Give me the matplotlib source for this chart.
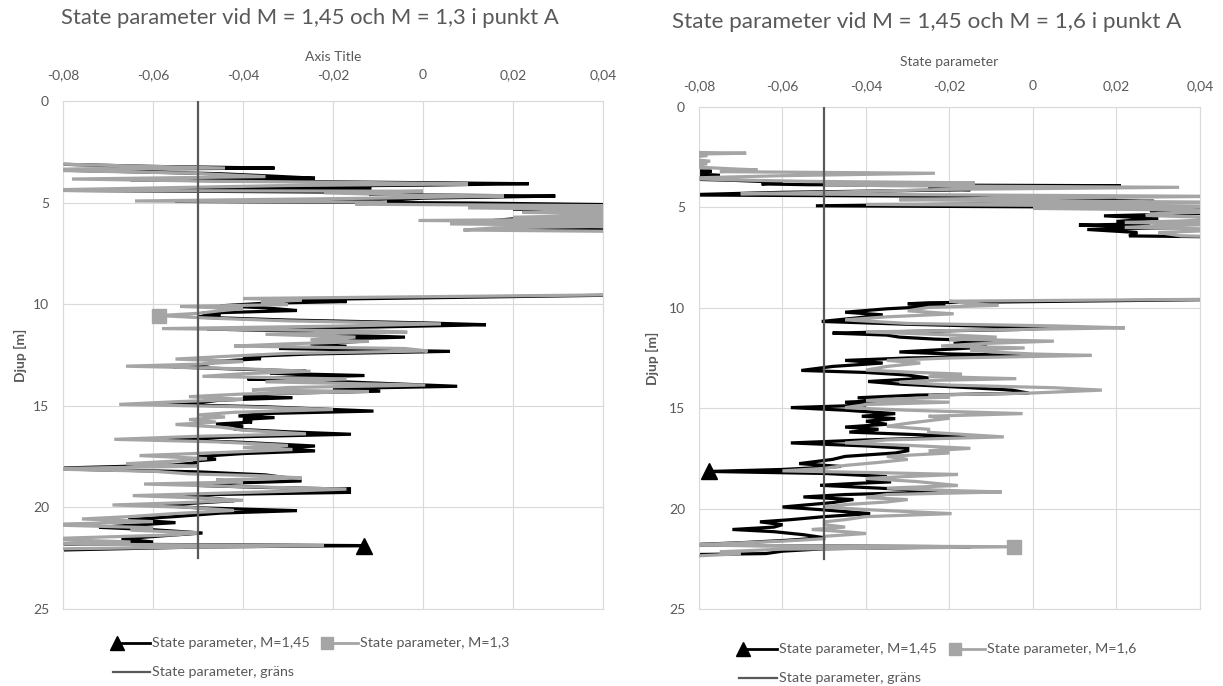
import matplotlib
matplotlib.use("Agg")
import matplotlib.pyplot as plt
from matplotlib.lines import Line2D

plt.rcParams['font.family'] = ['Lato', 'DejaVu Sans']

TEXT = '#595959'
GRID = '#D9D9D9'
BLACK = '#000000'
GREY = '#A5A5A5'
LIMIT = '#595959'

x_ticks = [-0.08, -0.06, -0.04, -0.02, 0.0, 0.02, 0.04]
x_tick_labels = ['-0,08', '-0,06', '-0,04', '-0,02', '0', '0,02', '0,04']
y_ticks = [0, 5, 10, 15, 20, 25]

# ---------------- Point A, M = 1,45 vs M = 1,3 ----------------
# M = 1,3 (grey)
a13_depth = [
    3.05, 3.18, 3.30, 3.38, 3.55, 3.72, 3.84, 3.95, 4.02, 4.08,
    4.16, 4.28, 4.40, 4.44, 4.52, 4.62, 4.68, 4.78, 4.92, 4.98,
    5.08, 5.16, 5.26, 5.36, 5.48, 5.58, 5.72, 5.80, 5.88, 5.96,
    6.05, 6.14, 6.24, 6.35, 6.45, 9.50, 9.72, 9.80, 9.90, 10.02,
    10.11, 10.22, 10.32, 10.45, 10.56, 10.68, 10.82, 10.97, 11.08, 11.20,
    11.32, 11.38, 11.48, 11.62, 11.75, 11.83, 11.95, 12.06, 12.18, 12.30,
    12.42, 12.58, 12.70, 12.82, 12.95, 13.05, 13.18, 13.30, 13.42, 13.55,
    13.68, 13.82, 13.98, 14.10, 14.22, 14.30, 14.42, 14.55, 14.68, 14.80,
    14.93, 15.05, 15.18, 15.32, 15.45, 15.55, 15.68, 15.80, 15.92, 16.05,
    16.20, 16.38, 16.50, 16.65, 16.78, 16.95, 17.05, 17.15, 17.30, 17.45,
    17.60, 17.72, 17.85, 17.97, 18.10, 18.22, 18.35, 18.45, 18.55, 18.65,
    18.75, 18.85, 18.98, 19.10, 19.20, 19.30, 19.42, 19.55, 19.65, 19.78,
    19.88, 20.00, 20.15, 20.30, 20.45, 20.57, 20.70, 20.85, 21.00, 21.12,
    21.25, 21.35, 21.45, 21.55, 21.70, 21.80, 21.88, 21.98, 22.05, 22.20,
]
a13_value = [
    -0.090, -0.068, -0.044, -0.090, -0.052, -0.035, -0.078, -0.045, -0.010, 0.010,
    -0.030, -0.060, -0.090, 0.000, -0.022, -0.004, 0.018, -0.010, -0.064, -0.008,
    -0.015, 0.050, 0.010, 0.050, 0.022, 0.050, 0.020, 0.050, -0.001, 0.050,
    0.006, 0.050, 0.016, 0.009, 0.060, 0.060, -0.040, -0.027, -0.036, -0.030,
    -0.054, -0.040, -0.045, -0.050, -0.0587, -0.048, -0.030, 0.004, -0.020, -0.058,
    -0.010, -0.0035, -0.035, -0.015, -0.025, -0.012, -0.030, -0.042, -0.004, 0.001,
    -0.030, -0.045, -0.055, -0.040, -0.050, -0.066, -0.040, -0.025, -0.040, -0.049,
    -0.017, -0.035, 0.0005, -0.030, -0.038, -0.012, -0.040, -0.052, -0.040, -0.055,
    -0.0675, -0.040, -0.020, -0.042, -0.050, -0.044, -0.052, -0.046, -0.055, -0.045,
    -0.040, -0.026, -0.050, -0.0686, -0.045, -0.030, -0.040, -0.029, -0.045, -0.063,
    -0.048, -0.055, -0.066, -0.050, -0.085, -0.060, -0.052, -0.035, -0.027, -0.046,
    -0.040, -0.062, -0.040, -0.017, -0.030, -0.045, -0.0645, -0.048, -0.040, -0.055,
    -0.069, -0.052, -0.042, -0.055, -0.065, -0.0758, -0.060, -0.085, -0.060, -0.065,
    -0.050, -0.055, -0.070, -0.085, -0.065, -0.085, -0.022, -0.060, -0.085, -0.085,
]
a13_marker_depth = 10.56

# M = 1,45 (black)
a145_depth = [
    3.05, 3.13, 3.22, 3.30, 3.38, 3.58, 3.68, 3.80, 3.88, 3.98,
    4.07, 4.14, 4.22, 4.32, 4.40, 4.51, 4.60, 4.68, 4.78, 4.89,
    4.94, 5.02, 5.12, 5.22, 5.32, 5.44, 5.55, 5.66, 5.80, 5.93,
    6.00, 6.10, 6.20, 6.30, 6.42, 9.50, 9.78, 9.87, 9.95, 10.08,
    10.18, 10.31, 10.44, 10.52, 10.64, 10.78, 10.92, 11.01, 11.12, 11.22,
    11.34, 11.48, 11.62, 11.72, 11.83, 11.95, 12.07, 12.18, 12.32, 12.45,
    12.58, 12.68, 12.80, 12.95, 13.09, 13.20, 13.30, 13.40, 13.51, 13.60,
    13.68, 13.80, 14.04, 14.15, 14.28, 14.40, 14.52, 14.60, 14.72, 14.85,
    14.93, 15.05, 15.26, 15.38, 15.50, 15.58, 15.67, 15.80, 15.90, 16.00,
    16.15, 16.28, 16.40, 16.52, 16.65, 16.80, 16.98, 17.08, 17.22, 17.35,
    17.50, 17.63, 17.72, 17.80, 17.92, 18.09, 18.25, 18.40, 18.55, 18.70,
    18.80, 18.92, 19.02, 19.10, 19.18, 19.26, 19.36, 19.46, 19.58, 19.67,
    19.78, 19.89, 20.02, 20.16, 20.28, 20.45, 20.60, 20.75, 20.88, 20.98,
    21.10, 21.26, 21.40, 21.55, 21.70, 21.80, 21.88, 21.95, 22.05, 22.12,
]
a145_value = [
    -0.090, -0.0775, -0.060, -0.033, -0.085, -0.045, -0.035, -0.024, -0.065, -0.020,
    0.0235, 0.000, -0.040, -0.0115, -0.080, 0.000, -0.012, 0.0294, 0.000, -0.008,
    -0.055, 0.010, 0.050, 0.040, 0.020, 0.050, 0.032, 0.050, 0.020, 0.013,
    0.024, 0.050, 0.022, 0.030, 0.060, 0.060, -0.030, -0.017, -0.035, -0.045,
    -0.035, -0.028, -0.049, -0.045, -0.050, -0.030, 0.000, 0.014, -0.010, -0.048,
    -0.0245, -0.025, -0.004, -0.020, -0.014, -0.025, -0.017, -0.032, 0.006, -0.025,
    -0.040, -0.036, -0.045, -0.048, -0.0555, -0.040, -0.026, -0.034, -0.013, -0.030,
    -0.039, -0.020, 0.0076, -0.020, -0.0095, -0.035, -0.040, -0.029, -0.045, -0.050,
    -0.058, -0.035, -0.011, -0.035, -0.041, -0.033, -0.040, -0.038, -0.046, -0.040,
    -0.042, -0.030, -0.016, -0.040, -0.058, -0.040, -0.024, -0.032, -0.024, -0.040,
    -0.050, -0.046, -0.051, -0.050, -0.056, -0.085, -0.050, -0.035, -0.030, -0.027,
    -0.042, -0.050, -0.035, -0.016, -0.026, -0.016, -0.045, -0.055, -0.045, -0.042,
    -0.050, -0.0595, -0.050, -0.028, -0.045, -0.055, -0.0655, -0.055, -0.065, -0.072,
    -0.060, -0.049, -0.058, -0.067, -0.060, -0.080, -0.0131, -0.050, -0.070, -0.085,
]
a145_marker_depth = 21.88

# ---------------- Point A, M = 1,45 vs M = 1,6 ----------------
# M = 1,6 (grey)
b16_depth = [
    2.25, 2.30, 2.36, 2.42, 2.55, 2.70, 2.76, 2.83, 2.95, 3.10,
    3.13, 3.22, 3.30, 3.42, 3.55, 3.63, 3.70, 3.78, 3.85, 3.92,
    4.00, 4.10, 4.25, 4.32, 4.45, 4.55, 4.62, 4.75, 4.85, 4.95,
    5.05, 5.17, 5.30, 5.40, 5.55, 5.68, 5.75, 5.82, 5.92, 6.00,
    6.10, 6.25, 6.42, 6.50, 9.55, 9.67, 9.80, 9.88, 9.98, 10.15,
    10.30, 10.45, 10.60, 10.78, 10.90, 11.00, 11.10, 11.20, 11.35, 11.46,
    11.56, 11.66, 11.78, 11.90, 12.00, 12.10, 12.20, 12.30, 12.37, 12.50,
    12.62, 12.75, 12.92, 13.10, 13.20, 13.30, 13.42, 13.53, 13.62, 13.70,
    13.85, 13.98, 14.10, 14.25, 14.35, 14.45, 14.55, 14.62, 14.70, 14.82,
    14.97, 15.10, 15.27, 15.40, 15.50, 15.60, 15.75, 15.90, 16.05, 16.20,
    16.33, 16.43, 16.58, 16.73, 16.85, 17.00, 17.12, 17.23, 17.40, 17.55,
    17.70, 17.85, 18.00, 18.12, 18.22, 18.30, 18.40, 18.50, 18.65, 18.85,
    18.98, 19.10, 19.17, 19.30, 19.45, 19.55, 19.67, 19.80, 19.92, 20.05,
    20.25, 20.40, 20.55, 20.66, 20.80, 20.92, 21.04, 21.15, 21.24, 21.38,
    21.50, 21.62, 21.75, 21.82, 21.90, 22.02, 22.15, 22.25, 22.40,
]
b16_value = [
    -0.085, -0.0687, -0.085, -0.078, -0.085, -0.0773, -0.085, -0.078, -0.085, -0.070,
    -0.066, -0.075, -0.0235, -0.060, -0.085, -0.072, -0.055, -0.014, -0.050, -0.035,
    0.035, -0.020, -0.050, -0.070, 0.045, -0.010, -0.032, 0.050, -0.040, 0.050,
    0.000, 0.055, 0.030, 0.027, 0.050, 0.035, 0.022, 0.050, 0.030, 0.022,
    0.050, 0.030, 0.0355, 0.060, 0.060, -0.020, -0.015, -0.0083, -0.025, -0.030,
    -0.019, -0.035, -0.045, -0.030, 0.005, 0.022, -0.010, -0.040, -0.020, -0.0087,
    -0.020, 0.005, -0.012, -0.022, -0.002, -0.015, -0.010, 0.000, 0.014, -0.020,
    -0.035, -0.027, -0.035, -0.040, -0.030, -0.017, -0.025, -0.004, -0.025, -0.032,
    -0.020, 0.005, 0.0165, -0.001, -0.025, -0.020, -0.035, -0.040, -0.020, -0.040,
    -0.045, -0.030, -0.0025, -0.025, -0.020, -0.024, -0.030, -0.035, -0.025, -0.025,
    -0.015, -0.007, -0.035, -0.045, -0.030, -0.015, -0.025, -0.020, -0.035, -0.030,
    -0.037, -0.045, -0.050, -0.060, -0.035, -0.018, -0.030, -0.040, -0.028, -0.018,
    -0.035, -0.020, -0.0075, -0.035, -0.040, -0.030, -0.035, -0.045, -0.050, -0.040,
    -0.0195, -0.040, -0.045, -0.050, -0.050, -0.045, -0.053, -0.045, -0.040, -0.050,
    -0.050, -0.060, -0.075, -0.085, -0.0046, -0.060, -0.075, -0.070, -0.085,
]
b16_marker_depth = 21.90

# M = 1,45 (black)
b145_depth = [
    3.15, 3.20, 3.28, 3.40, 3.50, 3.58, 3.65, 3.75, 3.83, 3.87,
    3.92, 3.96, 4.00, 4.02, 4.05, 4.12, 4.25, 4.38, 4.48, 4.58,
    4.63, 4.70, 4.80, 4.92, 4.98, 5.08, 5.17, 5.28, 5.42, 5.55,
    5.70, 5.82, 5.88, 5.95, 6.00, 6.10, 6.25, 6.42, 6.50, 9.55,
    9.75, 9.80, 9.90, 10.05, 10.22, 10.35, 10.50, 10.68, 10.82, 11.00,
    11.08, 11.18, 11.26, 11.36, 11.46, 11.56, 11.66, 11.78, 11.95, 12.05,
    12.20, 12.30, 12.37, 12.50, 12.62, 12.75, 12.92, 13.12, 13.22, 13.35,
    13.50, 13.67, 13.80, 13.98, 14.10, 14.25, 14.35, 14.48, 14.58, 14.70,
    14.85, 14.97, 15.10, 15.27, 15.40, 15.52, 15.65, 15.80, 15.94, 16.05,
    16.19, 16.30, 16.43, 16.58, 16.73, 16.88, 17.00, 17.12, 17.23, 17.40,
    17.55, 17.76, 17.90, 18.05, 18.15, 18.25, 18.40, 18.55, 18.67, 18.75,
    18.84, 18.95, 19.05, 19.17, 19.30, 19.42, 19.55, 19.70, 19.92, 20.05,
    20.15, 20.25, 20.40, 20.55, 20.66, 20.80, 20.92, 21.04, 21.15, 21.30,
    21.45, 21.58, 21.70, 21.82, 21.90, 22.00, 22.12, 22.24, 22.30,
]
b145_value = [
    -0.085, -0.077, -0.085, -0.075, -0.080, -0.085, -0.072, -0.060, -0.065, -0.054,
    0.021, 0.011, -0.006, 0.0036, -0.025, -0.015, -0.060, -0.085, 0.020, 0.000,
    0.011, 0.029, 0.000, -0.052, 0.010, 0.040, 0.028, 0.045, 0.017, 0.030,
    0.020, 0.028, 0.011, 0.022, 0.0355, 0.013, 0.025, 0.023, 0.060, 0.060,
    -0.025, -0.030, -0.021, -0.035, -0.045, -0.036, -0.042, -0.0506, -0.030, 0.005,
    -0.003, -0.030, -0.048, -0.035, -0.032, -0.0235, -0.007, -0.019, -0.011, -0.019,
    -0.032, -0.020, 0.001, -0.030, -0.045, -0.036, -0.048, -0.0555, -0.040, -0.030,
    -0.025, -0.0395, -0.032, -0.015, -0.005, -0.001, -0.028, -0.042, -0.032, -0.045,
    -0.040, -0.058, -0.045, -0.033, -0.041, -0.033, -0.040, -0.035, -0.045, -0.037,
    -0.044, -0.030, -0.015, -0.040, -0.058, -0.040, -0.030, -0.030, -0.033, -0.045,
    -0.048, -0.056, -0.046, -0.060, -0.0775, -0.050, -0.035, -0.040, -0.034, -0.043,
    -0.051, -0.040, -0.030, -0.0227, -0.045, -0.055, -0.043, -0.048, -0.060, -0.051,
    -0.045, -0.039, -0.050, -0.058, -0.0654, -0.060, -0.062, -0.072, -0.062, -0.055,
    -0.050, -0.059, -0.070, -0.085, -0.015, -0.050, -0.060, -0.064, -0.085,
]
b145_marker_depth = 18.15

# Limit value (gräns)
limit_depth = [0.0, 22.5]
limit_value = [-0.05, -0.05]

W, H = 1223, 686
fig = plt.figure(figsize=(W / 100, H / 100), dpi=100)


def px_rect(left, top, right, bottom):
    return [left / W, 1 - bottom / H, (right - left) / W, (bottom - top) / H]


def fx(x):
    return x / W


def fy(y):
    return 1 - y / H


def draw_panel(ax, grey_depth, grey_value, grey_mark, black_depth, black_value,
               black_mark, xlabel, xpad, xlabel_y, ylabel_x):
    ax.plot(black_value, black_depth, color=BLACK, lw=2.3, zorder=2,
            marker='^', markevery=[black_depth.index(black_mark)],
            ms=11, mfc=BLACK, mec=BLACK, solid_joinstyle='miter')
    ax.plot(grey_value, grey_depth, color=GREY, lw=2.3, zorder=3,
            marker='s', markevery=[grey_depth.index(grey_mark)],
            ms=10, mfc=GREY, mec=GREY, solid_joinstyle='miter')
    ax.plot(limit_value, limit_depth, color=LIMIT, lw=1.6, zorder=4)

    ax.set_xlim(-0.08, 0.04)
    ax.set_ylim(25, 0)
    ax.xaxis.tick_top()
    ax.xaxis.set_label_position('top')
    ax.set_xticks(x_ticks)
    ax.set_xticklabels(x_tick_labels)
    ax.set_yticks(y_ticks)
    ax.tick_params(axis='both', length=0, colors=TEXT, labelsize=10)
    ax.tick_params(axis='x', pad=xpad)
    ax.tick_params(axis='y', pad=10)
    ax.grid(True, color=GRID, lw=0.8)
    ax.set_axisbelow(True)
    for sp in ax.spines.values():
        sp.set_color(GRID)
        sp.set_linewidth(0.8)

    ax.set_xlabel(xlabel, color=TEXT, fontsize=10)
    ax.xaxis.label.set_va('center')
    ax.xaxis.set_label_coords(0.5, xlabel_y)
    ax.set_ylabel('Djup [m]', color=TEXT, fontsize=10, fontweight='bold')
    ax.yaxis.label.set_va('center')
    ax.yaxis.set_label_coords(ylabel_x, 0.5)


ax1 = fig.add_axes(px_rect(63, 101, 603, 609))
draw_panel(ax1, a13_depth, a13_value, a13_marker_depth,
           a145_depth, a145_value, a145_marker_depth,
           'Axis Title', 14.5, (609 - 57) / 508, (20 - 63) / 540)

ax2 = fig.add_axes(px_rect(699, 107, 1200, 609))
draw_panel(ax2, b16_depth, b16_value, b16_marker_depth,
           b145_depth, b145_value, b145_marker_depth,
           'State parameter', 10.5, (609 - 62) / 502, (652 - 699) / 501)

fig.text(fx(310), fy(18), 'State parameter vid M = 1,45 och M = 1,3 i punkt A',
         ha='center', va='center', color=TEXT, fontsize=15.8)
fig.text(fx(927), fy(22), 'State parameter vid M = 1,45 och M = 1,6 i punkt A',
         ha='center', va='center', color=TEXT, fontsize=16.2)


def legend(tri_x, sq_x, row1, row2, text1_x, text2_x, label2):
    # black series entry
    fig.add_artist(Line2D([fx(tri_x), fx(text1_x - 2)], [fy(row1)] * 2,
                          color=BLACK, lw=2.0))
    fig.add_artist(Line2D([fx(tri_x)], [fy(row1)], marker='^', ms=10,
                          color=BLACK, lw=0))
    fig.text(fx(text1_x), fy(row1), 'State parameter, M=1,45', ha='left',
             va='center', color=TEXT, fontsize=10.3)
    # grey series entry
    fig.add_artist(Line2D([fx(sq_x), fx(text2_x - 2)], [fy(row1)] * 2,
                          color=GREY, lw=2.0))
    fig.add_artist(Line2D([fx(sq_x)], [fy(row1)], marker='s', ms=9,
                          color=GREY, lw=0))
    fig.text(fx(text2_x), fy(row1), label2, ha='left',
             va='center', color=TEXT, fontsize=10.3)
    # limit entry
    fig.add_artist(Line2D([fx(tri_x - 4), fx(text1_x - 2)], [fy(row2)] * 2,
                          color=LIMIT, lw=1.6))
    fig.text(fx(text1_x), fy(row2), 'State parameter, gräns', ha='left',
             va='center', color=TEXT, fontsize=10.3)


legend(117, 327, 643, 672, 152, 360, 'State parameter, M=1,3')
legend(743, 955, 649, 678, 779, 987, 'State parameter, M=1,6')

fig.savefig('out.png', dpi=100, facecolor='white')
